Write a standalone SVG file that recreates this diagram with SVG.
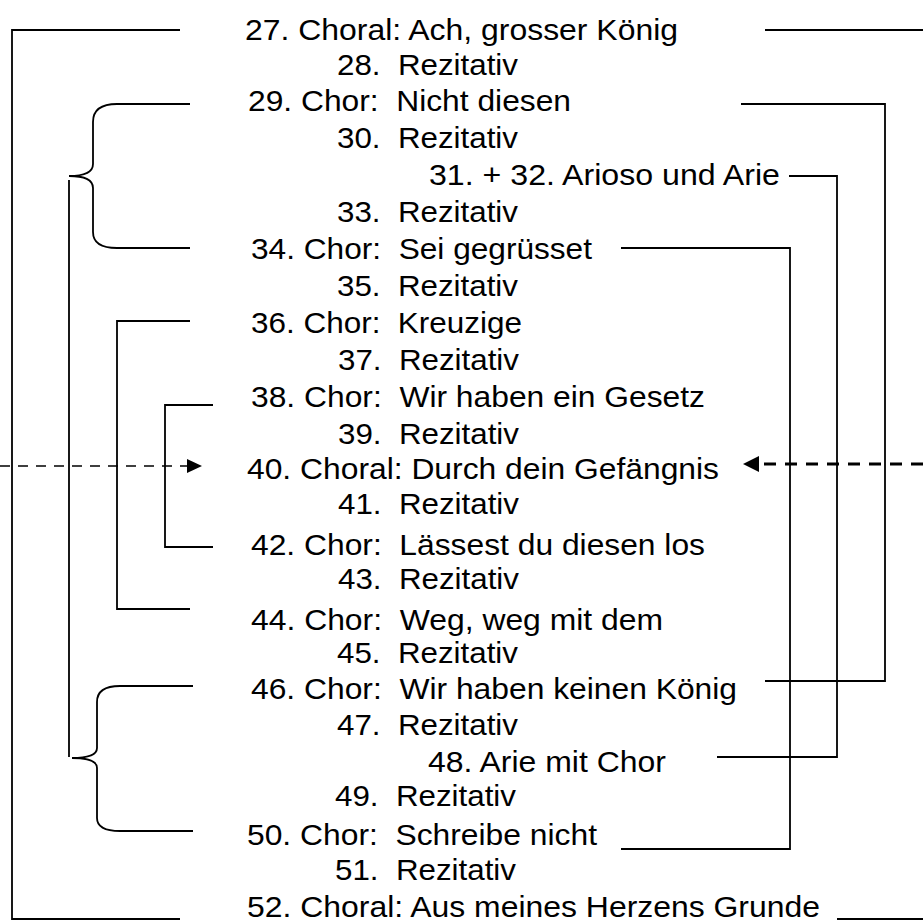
<svg xmlns="http://www.w3.org/2000/svg" width="923" height="922" viewBox="0 0 923 922">
  <style>
    .lbl { font-family: "Liberation Sans", Arial, sans-serif; font-size: 29.5px; fill: #000; white-space: pre; }
    .ln { fill: none; stroke: #000; stroke-width: 1.8; }
    .dash-thin { fill: none; stroke: #000; stroke-width: 1.6; stroke-dasharray: 10 8; }
    .dash-bold { fill: none; stroke: #000; stroke-width: 3; stroke-dasharray: 12 9; }
  </style>
  <defs>
    <marker id="headThin" markerUnits="userSpaceOnUse" markerWidth="16" markerHeight="16" refX="1" refY="7" orient="auto">
      <path d="M0,0 L15,7 L0,14 z" fill="#000"/>
    </marker>
    <marker id="headBold" markerUnits="userSpaceOnUse" markerWidth="17" markerHeight="17" refX="1" refY="8" orient="auto">
      <path d="M0,0 L16,8 L0,16 z" fill="#000"/>
    </marker>
  </defs>
  <rect width="923" height="922" fill="#fff"/>

  <!-- movement list -->
  <g id="n27"><text class="lbl" x="245" y="40" textLength="433" lengthAdjust="spacingAndGlyphs">27. Choral: Ach, grosser König</text></g>
  <g id="n28"><text class="lbl" x="337" y="75" textLength="181" lengthAdjust="spacingAndGlyphs">28.  Rezitativ</text></g>
  <g id="n29"><text class="lbl" x="248" y="111" textLength="323" lengthAdjust="spacingAndGlyphs">29. Chor:  Nicht diesen</text></g>
  <g id="n30"><text class="lbl" x="337" y="148" textLength="181" lengthAdjust="spacingAndGlyphs">30.  Rezitativ</text></g>
  <g id="n31"><text class="lbl" x="429" y="185" textLength="351" lengthAdjust="spacingAndGlyphs">31. + 32. Arioso und Arie</text></g>
  <g id="n33"><text class="lbl" x="337" y="222" textLength="181" lengthAdjust="spacingAndGlyphs">33.  Rezitativ</text></g>
  <g id="n34"><text class="lbl" x="251" y="259" textLength="341" lengthAdjust="spacingAndGlyphs">34. Chor:  Sei gegrüsset</text></g>
  <g id="n35"><text class="lbl" x="337" y="296" textLength="181" lengthAdjust="spacingAndGlyphs">35.  Rezitativ</text></g>
  <g id="n36"><text class="lbl" x="251" y="333" textLength="271" lengthAdjust="spacingAndGlyphs">36. Chor:  Kreuzige</text></g>
  <g id="n37"><text class="lbl" x="338" y="370" textLength="181" lengthAdjust="spacingAndGlyphs">37.  Rezitativ</text></g>
  <g id="n38"><text class="lbl" x="251" y="407" textLength="454" lengthAdjust="spacingAndGlyphs">38. Chor:  Wir haben ein Gesetz</text></g>
  <g id="n39"><text class="lbl" x="338" y="444" textLength="181" lengthAdjust="spacingAndGlyphs">39.  Rezitativ</text></g>
  <g id="n40"><text class="lbl" x="247" y="479" textLength="472" lengthAdjust="spacingAndGlyphs">40. Choral: Durch dein Gefängnis</text></g>
  <g id="n41"><text class="lbl" x="338" y="514" textLength="181" lengthAdjust="spacingAndGlyphs">41.  Rezitativ</text></g>
  <g id="n42"><text class="lbl" x="251" y="555" textLength="454" lengthAdjust="spacingAndGlyphs">42. Chor:  Lässest du diesen los</text></g>
  <g id="n43"><text class="lbl" x="338" y="589" textLength="181" lengthAdjust="spacingAndGlyphs">43.  Rezitativ</text></g>
  <g id="n44"><text class="lbl" x="251" y="630" textLength="412" lengthAdjust="spacingAndGlyphs">44. Chor:  Weg, weg mit dem</text></g>
  <g id="n45"><text class="lbl" x="337" y="663" textLength="181" lengthAdjust="spacingAndGlyphs">45.  Rezitativ</text></g>
  <g id="n46"><text class="lbl" x="251" y="699" textLength="486" lengthAdjust="spacingAndGlyphs">46. Chor:  Wir haben keinen König</text></g>
  <g id="n47"><text class="lbl" x="337" y="735" textLength="181" lengthAdjust="spacingAndGlyphs">47.  Rezitativ</text></g>
  <g id="n48"><text class="lbl" x="428" y="772" textLength="238" lengthAdjust="spacingAndGlyphs">48. Arie mit Chor</text></g>
  <g id="n49"><text class="lbl" x="335" y="806" textLength="181" lengthAdjust="spacingAndGlyphs">49.  Rezitativ</text></g>
  <g id="n50"><text class="lbl" x="247" y="845" textLength="350" lengthAdjust="spacingAndGlyphs">50. Chor:  Schreibe nicht</text></g>
  <g id="n51"><text class="lbl" x="335" y="880" textLength="181" lengthAdjust="spacingAndGlyphs">51.  Rezitativ</text></g>
  <g id="n52"><text class="lbl" x="247" y="917" textLength="573" lengthAdjust="spacingAndGlyphs">52. Choral: Aus meines Herzens Grunde</text></g>

  <!-- symmetry brackets and braces -->
  <g id="connectors">
    <!-- left side -->
    <path class="ln" d="M180,30 H12 V919 H180"/>
    <path class="ln" d="M190,104 H117 C101,104 93,110 93,122 V164 C93,172 85,176 69,176 C85,176 93,180 93,188 V232 C93,243 101,248 117,248 H190"/>
    <path class="ln" d="M193,686 H120 C104,686 97,692 97,702 V748 C97,754 90,758 72,758 C90,758 97,762 97,768 V818 C97,826 104,831 120,831 H193"/>
    <path class="ln" d="M69,180 V757"/>
    <path class="ln" d="M190,321 H117 V609 H190"/>
    <path class="ln" d="M213,405 H165 V547 H213"/>
    <path class="dash-thin" d="M0,466 H188" marker-end="url(#headThin)"/>

    <!-- right side -->
    <path class="ln" d="M765,30 H923"/>
    <path class="ln" d="M741,104 H885 V681 H765"/>
    <path class="ln" d="M789,176 H837 V757 H717"/>
    <path class="ln" d="M621,248 H790 V849 H621"/>
    <path class="ln" d="M837,919 H923"/>
    <path class="dash-bold" d="M923,464 H758" marker-end="url(#headBold)"/>
  </g>
</svg>
